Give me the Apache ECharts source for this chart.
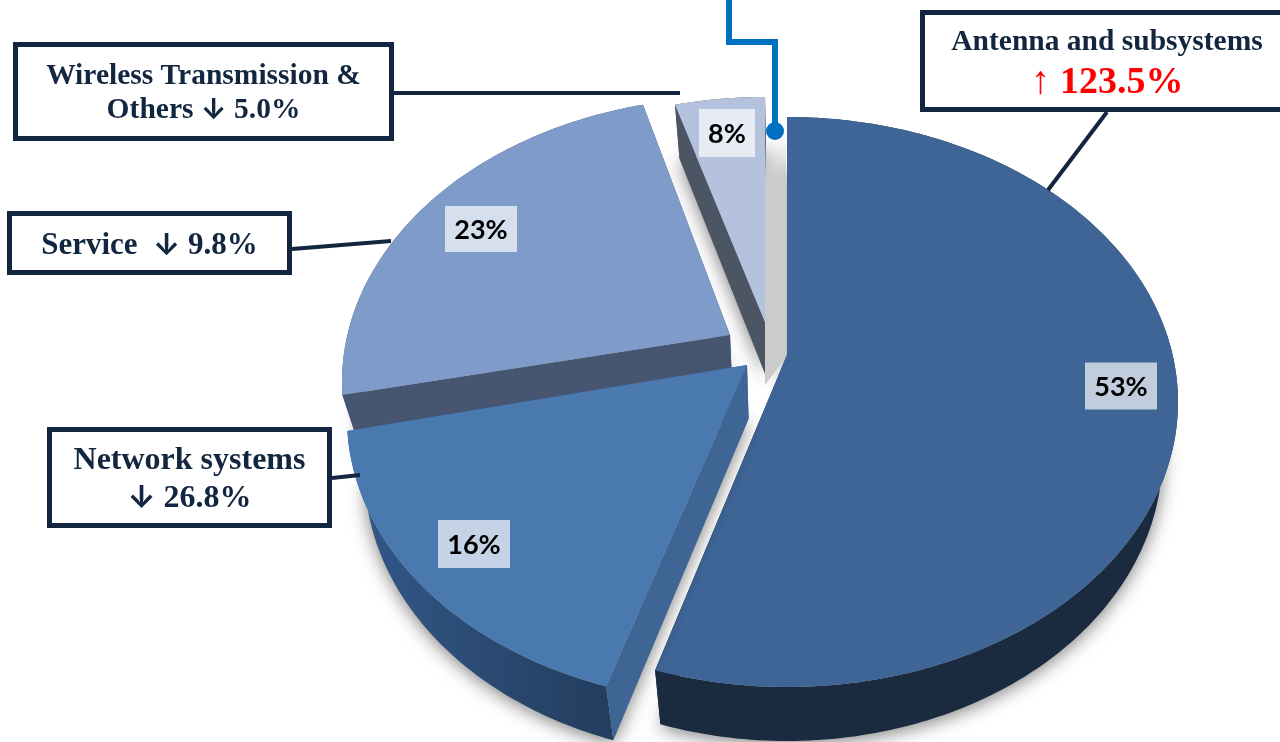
<!DOCTYPE html>
<html>
<head>
<meta charset="utf-8">
<style>html,body{margin:0;padding:0;background:#fff}#chart{width:1280px;height:742px}</style>
<script src="https://cdn.jsdelivr.net/npm/echarts@6/dist/echarts.min.js"></script>
</head>
<body>
<div id="chart"></div>
<script>
// Revenue mix by segment, clockwise from twelve o'clock
const categories = ['Antenna and subsystems', 'Network systems', 'Service', 'Wireless Transmission & Others'];
const shareValues = [53, 16, 23, 8];
const changeValues = [123.5, -26.8, -9.8, -5.0];

// Palette per slice: top face, exposed cut face, outer wall (right and left stops)
const topColors = ['#3e6596', '#4a79b0', '#7f9bca', '#b5c2de'];
const cutColors = ['#1a2b40', '#3f6595', '#465670', '#4b5563'];
const wallRight = ['#1a2b40', '#233e5e', '#465670', '#4b5563'];
const wallLeft = ['#1a2b40', '#33588a', '#465670', '#4b5563'];

// Tilted disc
const disc = { cx: 787, cy: 402, rx: 391, ry: 285, hubX: 787, hubY: 355, depth: 54, taper: 0.04 };
// Explode offsets: rim and hub move separately because of the perspective
const rimShift = [[0, 0], [-49, 16], [-54, -20], [-22, -20]];
const hubShift = [[0, 0], [-40, 10], [-57, -20], [-22, -33]];
// Paint order, back to front
const paintOrder = [3, 2, 0, 1];
// Percent tag centres
const tagCentres = [[1121, 386], [474, 544], [481, 229], [727, 133]];
const tagSizes = [[72, 47], [72, 48], [72, 46], [56, 48]];

// Foreshortening of the circular angle on the tilted disc
function warp(deg) {
  const t = deg * Math.PI / 180;
  return deg - 19.6 * Math.sin(t) + 3.87 * (1 - Math.cos(t)) - 6.6 * Math.sin(2 * t);
}
function rimPoint(deg, shift) {
  const p = warp(deg) * Math.PI / 180;
  return [disc.cx + shift[0] + disc.rx * Math.sin(p), disc.cy + shift[1] - disc.ry * Math.cos(p)];
}
function lower(p) {
  return [p[0] + (disc.cx - p[0]) * disc.taper, p[1] + disc.depth];
}

const total = shareValues.reduce((a, b) => a + b, 0);
const startAngles = [];
shareValues.reduce((acc, v, i) => { startAngles[i] = acc; return acc + v / total * 360; }, 0);

function poly(points, fill, extra) {
  return { type: 'polygon', shape: { points: points }, style: Object.assign({ fill: fill }, extra || {}) };
}

function renderSlice(params, api) {
  const i = paintOrder[params.dataIndex];
  const value = api.value(0);
  const a0 = startAngles[i], a1 = a0 + value / total * 360;
  const rs = rimShift[i], hs = hubShift[i];
  const hub = [disc.hubX + hs[0], disc.hubY + hs[1]];
  const rim = [];
  for (let a = a0; a < a1; a += 1) rim.push(rimPoint(a, rs));
  rim.push(rimPoint(a1, rs));
  const lowerRim = rim.map(lower).reverse();
  const first = rim[0], last = rim[rim.length - 1];
  const minX = Math.min.apply(null, rim.map(p => p[0]));
  const maxX = Math.max.apply(null, rim.map(p => p[0]));
  const wallFill = new echarts.graphic.LinearGradient(minX, 0, maxX, 0, [
    { offset: 0, color: wallLeft[i] }, { offset: 1, color: wallRight[i] }
  ], true);
  const children = [
    // Soft cast shadow under the base of the solid
    poly([lower(hub)].concat(rim.map(lower)), '#b0b0b0', {
      shadowBlur: 18, shadowOffsetY: 3, shadowColor: 'rgba(0,0,0,0.5)'
    })
  ];
  if (i === 0) {
    // Shaded strip behind the small slice, fading upward
    children.push(poly([[765, 135], [786, 135], [786, 357], [765, 385]],
      new echarts.graphic.LinearGradient(0, 135, 0, 180, [
        { offset: 0, color: 'rgba(203,203,203,0)' }, { offset: 1, color: '#cbcbcb' }
      ], true)));
  }
  children.push(
    // Outer wall
    poly(rim.concat(lowerRim), wallFill),
    // Cut faces
    poly([hub, first, lower(first), lower(hub)], cutColors[i]),
    poly([hub, last, lower(last), lower(hub)], cutColors[i]),
    // Top face
    poly([hub].concat(rim), topColors[i])
  );
  // Percent tag
  const c = tagCentres[i], s = tagSizes[i];
  children.push({
    type: 'rect',
    shape: { x: c[0] - s[0] / 2, y: c[1] - s[1] / 2, width: s[0], height: s[1] },
    style: { fill: 'rgba(255,255,255,0.68)' },
    z2: 10
  });
  children.push({
    type: 'text', x: c[0], y: c[1] + 1,
    style: { text: value + '%', fill: '#000', font: 'bold 27px Lato', align: 'center', verticalAlign: 'middle' },
    z2: 11
  });
  return { type: 'group', children: children };
}

const navy = '#12263f';
const arrow = v => v > 0 ? '↑' : '↓';
const magnitude = v => Math.abs(v).toFixed(1) + '%';

// Callout box with a thick frame
function box(x, y, w, h, lines, size, lineHeight, dy, dx) {
  const serif = 'bold ' + size + 'px "Liberation Serif"';
  return [
    { type: 'rect', z: 20, shape: { x: x + 2.5, y: y + 2.5, width: w - 5, height: h - 5 },
      style: { fill: '#fff', stroke: navy, lineWidth: 5 } },
    { type: 'text', z: 21, x: x + w / 2 + (dx || 0), y: y + h / 2 + dy,
      style: { text: lines, align: 'center', verticalAlign: 'middle',
        fill: navy, font: serif,
        rich: {
          n: { font: serif, fill: navy, lineHeight: lineHeight },
          a: { font: 'bold ' + (size - 1) + 'px Inter', fill: navy, lineHeight: lineHeight },
          rn: { font: serif, fill: navy, lineHeight: 38 },
          ra: { font: 'bold 39px "Liberation Serif"', fill: '#ff0000', lineHeight: 44 },
          r: { font: 'bold 38px "Liberation Serif"', fill: '#ff0000', lineHeight: 44 }
        } } }
  ];
}
function leader(points, color, width) {
  return { type: 'polyline', z: 15, shape: { points: points }, style: { stroke: color, lineWidth: width, fill: null } };
}

const graphics = [
  leader([[394, 93], [680, 93]], navy, 4),
  leader([[292, 249], [391, 241]], navy, 4),
  leader([[332, 478], [360, 475]], navy, 4),
  leader([[1048, 190], [1107, 112]], navy, 4),
  leader([[729, 0], [729, 42], [775, 42], [775, 130]], '#0070c0', 6),
  { type: 'circle', z: 15, shape: { cx: 775, cy: 131, r: 9 }, style: { fill: '#0070c0' } }
].concat(
  box(13, 42, 381, 99, `{n|Wireless Transmission &}\n{n|Others }{a|${arrow(changeValues[3])}}{n| ${magnitude(changeValues[3])}}`, 29.5, 34, 2),
  box(7, 211, 285, 64, `{n|${categories[2]}  }{a|${arrow(changeValues[2])}}{n| ${magnitude(changeValues[2])}}`, 31, 36, 3),
  box(47, 427, 285, 101, `{n|${categories[1]}}\n{a|${arrow(changeValues[1])}}{n| ${magnitude(changeValues[1])}}`, 32, 38, 2.5),
  box(920, 10, 370, 102, `{rn|${categories[0]}}\n{ra|${arrow(changeValues[0])} }{r|${magnitude(changeValues[0])}}`, 29.5, 36, 3, 2)
);

const chart = echarts.init(document.getElementById('chart'), null, { renderer: 'canvas' });
chart.setOption({
  animation: false,
  backgroundColor: '#fff',
  graphic: graphics,
  series: [{
    type: 'custom',
    coordinateSystem: 'none',
    z: 5,
    silent: true,
    renderItem: renderSlice,
    data: paintOrder.map(i => [shareValues[i]])
  }]
});
</script>
</body>
</html>
